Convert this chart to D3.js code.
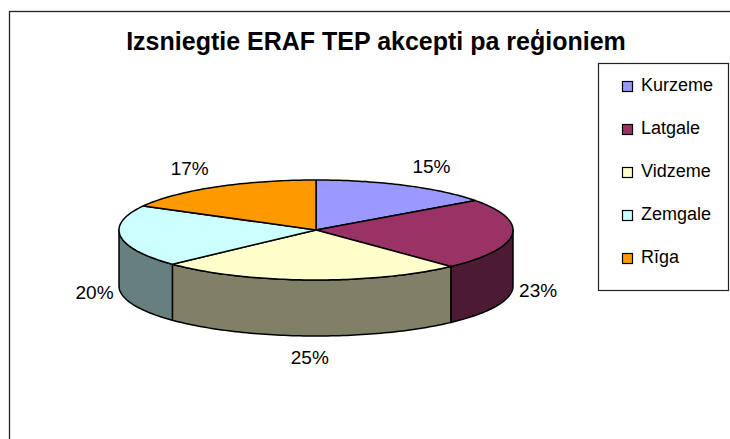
<!DOCTYPE html>
<html><head><meta charset="utf-8">
<script src="https://cdn.jsdelivr.net/npm/d3@7"></script>
<style>html,body{margin:0;padding:0;background:#fff;}svg{display:block;}</style>
</head><body>
<svg id="c" width="730" height="439"></svg>
<script>
const categories = ["Kurzeme", "Latgale", "Vidzeme", "Zemgale", "Rīga"];
const values = [15, 23, 25, 20, 17];
const labels = ["15%", "23%", "25%", "20%", "17%"];
const topColors = ["#9999FF", "#993366", "#FFFFCC", "#CCFFFF", "#FF9900"];
const sideColors = ["#4D4D80", "#4D1A33", "#808066", "#668080", "#804D00"];
const titleText = "Izsniegtie ERAF TEP akcepti pa reģioniem";

const svg = d3.select("#c");
const font = "Liberation Sans, Arial, sans-serif";

// frame
svg.append("rect").attr("x", 9.5).attr("y", 11.5).attr("width", 740).attr("height", 460)
  .attr("fill", "#fff").attr("stroke", "#222").attr("stroke-width", 1.3);

svg.append("text").attr("x", 376).attr("y", 50).attr("text-anchor", "middle")
  .attr("font-family", font).attr("font-weight", "bold").attr("font-size", 25)
  .text(titleText);

const cx = 316, cy = 230, rx = 197, ry = 50, depth = 56;
const pie = d3.pie().sort(null).value(d => d)(values);
const P = (t, dy = 0) => [cx + rx * Math.sin(t), cy - ry * Math.cos(t) + dy];
function arcPts(a0, a1, dy) {
  const n = Math.max(2, Math.ceil(Math.abs(a1 - a0) / 0.02));
  return d3.range(n + 1).map(i => P(a0 + (a1 - a0) * i / n, dy));
}
const line = d3.line();
const g = svg.append("g");
const H0 = Math.PI / 2, H1 = 3 * Math.PI / 2;

// sides
pie.forEach((s, i) => {
  const a0 = Math.max(s.startAngle, H0), a1 = Math.min(s.endAngle, H1);
  if (a1 <= a0) return;
  const pts = arcPts(a0, a1, 0).concat(arcPts(a1, a0, depth));
  g.append("path").attr("d", line(pts) + "Z").attr("fill", sideColors[i])
    .attr("stroke", "#000").attr("stroke-width", 1.5).attr("stroke-linejoin", "round");
});
// tops
pie.forEach((s, i) => {
  const pts = [[cx, cy]].concat(arcPts(s.startAngle, s.endAngle, 0));
  g.append("path").attr("d", line(pts) + "Z").attr("fill", topColors[i])
    .attr("stroke", "#000").attr("stroke-width", 1.5).attr("stroke-linejoin", "round");
});

// labels
pie.forEach((s, i) => {
  const t = (s.startAngle + s.endAngle) / 2;
  const hasSide = Math.min(s.endAngle, H1) > Math.max(s.startAngle, H0);
  const base = P(t, hasSide ? depth : 0);
  const sn = Math.sin(t), cs = Math.cos(t);
  const dx = Math.abs(sn) > 0.3 ? 26 * Math.sign(sn) : 0;
  const dy = cs > 0.3 ? -19 : (cs < -0.3 ? 21 : 0);
  svg.append("text").attr("x", base[0] + dx).attr("y", base[1] + dy)
    .attr("dy", "0.35em").attr("text-anchor", "middle")
    .attr("font-family", font).attr("font-size", 19).attr("fill", "#000")
    .text(labels[i]);
});

// legend
svg.append("rect").attr("x", 598.5).attr("y", 63.5).attr("width", 130).attr("height", 227)
  .attr("fill", "#fff").attr("stroke", "#222").attr("stroke-width", 1.2);
const ly = d3.scalePoint().domain(categories).range([91, 263]);
categories.forEach((c, i) => {
  svg.append("rect").attr("x", 622.5).attr("y", ly(c) - 9.5).attr("width", 10).attr("height", 10)
    .attr("fill", topColors[i]).attr("stroke", "#000").attr("stroke-width", 1.2);
  svg.append("text").attr("x", 641).attr("y", ly(c)).attr("font-family", font)
    .attr("font-size", 18).text(c);
});
</script>
</body></html>
